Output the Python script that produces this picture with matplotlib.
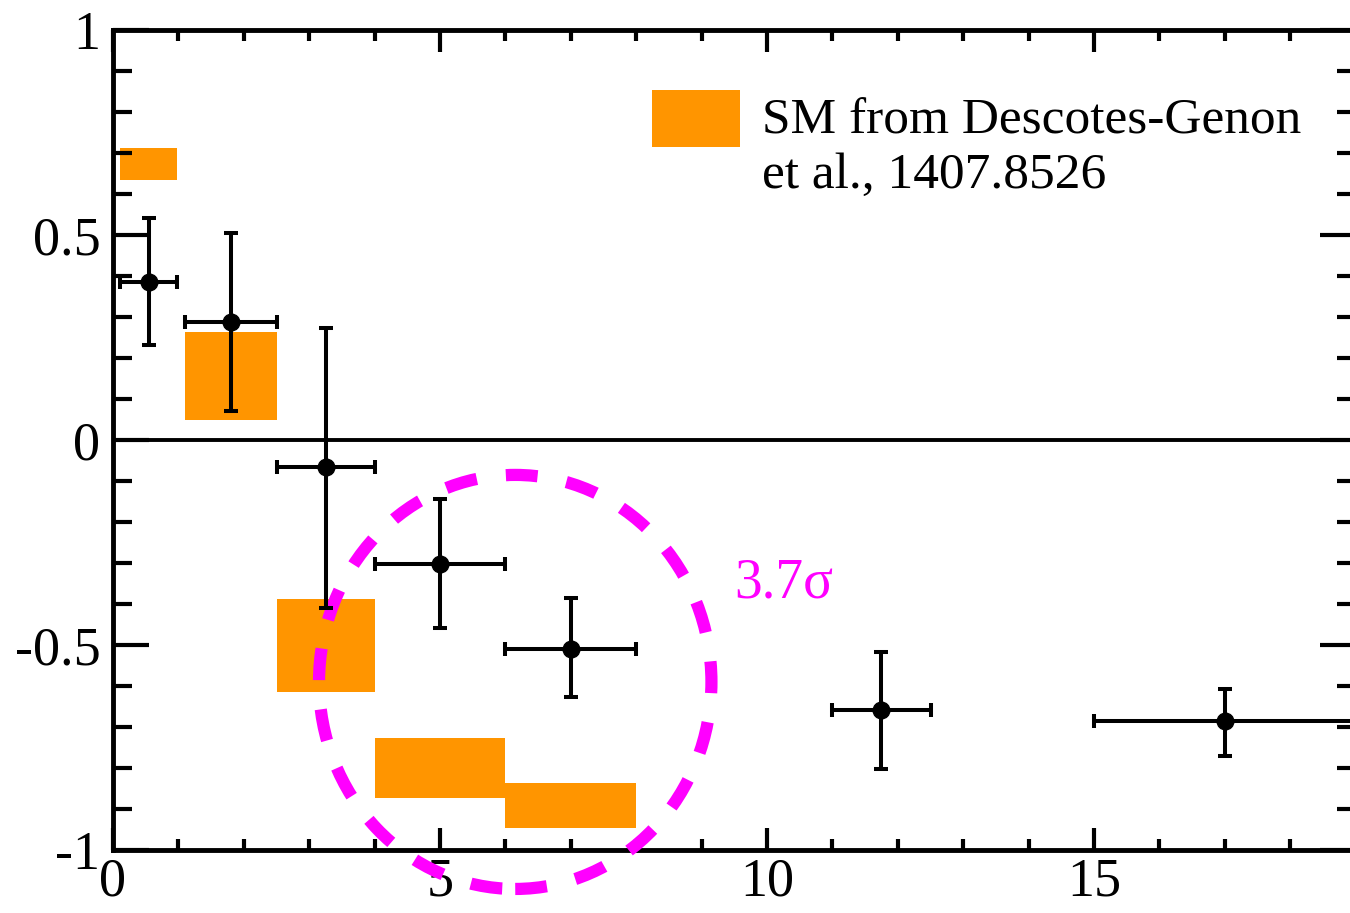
import matplotlib
matplotlib.use("Agg")
import matplotlib.pyplot as plt
from matplotlib.patches import Ellipse, Rectangle
from matplotlib.ticker import MultipleLocator

plt.rcParams['font.family'] = ['Liberation Serif', 'DejaVu Serif']

# data points (q2 bins) and measured values
x_val = [0.55, 1.8, 3.25, 5.0, 7.0, 11.75, 17.0]
x_lo = [0.1, 1.1, 2.5, 4.0, 6.0, 11.0, 15.0]
x_hi = [0.98, 2.5, 4.0, 6.0, 8.0, 12.5, 19.0]
y_val = [0.385, 0.288, -0.066, -0.302, -0.51, -0.659, -0.685]
y_up = [0.541, 0.505, 0.273, -0.144, -0.385, -0.517, -0.607]
y_dn = [0.232, 0.071, -0.41, -0.459, -0.627, -0.802, -0.771]

# SM prediction boxes
sm_xlo = [0.1, 1.1, 2.5, 4.0, 6.0]
sm_xhi = [0.98, 2.5, 4.0, 6.0, 8.0]
sm_lo = [0.634, 0.049, -0.615, -0.873, -0.946]
sm_hi = [0.712, 0.263, -0.388, -0.727, -0.837]

orange = '#ff9500'
magenta = '#ff00ff'

fig = plt.figure(figsize=(13.5, 9.13), dpi=100)
ax = fig.add_axes([0.0837, 0.069, 0.9205, 0.898])

# SM boxes
ax.bar(sm_xlo, [h - l for h, l in zip(sm_hi, sm_lo)],
       width=[b - a for a, b in zip(sm_xlo, sm_xhi)],
       bottom=sm_lo, align='edge', color=orange, zorder=1, linewidth=0)

ax.axhline(0, color='black', lw=2.8, zorder=2)

# data with errors
xerr = [[v - l for v, l in zip(x_val, x_lo)], [h - v for v, h in zip(x_val, x_hi)]]
yerr = [[v - d for v, d in zip(y_val, y_dn)], [u - v for v, u in zip(y_val, y_up)]]
ax.errorbar(x_val, y_val, xerr=xerr, yerr=yerr, fmt='o', color='black',
            ms=12, elinewidth=2.9, capsize=5, capthick=2.9, zorder=4, clip_on=False)

# 3.7 sigma circle
circ = Ellipse((6.15, -0.59), 6.0, 1.01, fill=False, edgecolor=magenta,
               lw=8.8, linestyle=(0, (2.6, 2.4)), zorder=3, clip_on=False)
ax.add_patch(circ)
ax.text(9.5, -0.385, '3.7σ', color=magenta, fontsize=40, va='baseline')

# legend
ax.add_patch(Rectangle((0.434, 0.857), 0.0708, 0.0695, transform=ax.transAxes,
                       color=orange, lw=0, zorder=5))
ax.text(0.522, 0.874, 'SM from Descotes-Genon', transform=ax.transAxes,
        fontsize=37, va='baseline')
ax.text(0.522, 0.807, 'et al., 1407.8526', transform=ax.transAxes,
        fontsize=37, va='baseline')

ax.set_xlim(0, 19)
ax.set_ylim(-1, 1)
ax.xaxis.set_major_locator(MultipleLocator(5))
ax.xaxis.set_minor_locator(MultipleLocator(1))
ax.yaxis.set_major_locator(MultipleLocator(0.5))
ax.yaxis.set_minor_locator(MultipleLocator(0.1))
ax.set_yticks([-1, -0.5, 0, 0.5, 1])
ax.set_yticklabels(['-1', '-0.5', '0', '0.5', '1'])

ax.tick_params(axis='both', which='both', direction='in', top=True, right=True,
               width=3, labelsize=39)
ax.tick_params(axis='x', which='major', length=16, pad=5)
ax.tick_params(axis='x', which='minor', length=8)
ax.tick_params(axis='y', which='major', length=26, pad=9)
ax.tick_params(axis='y', which='minor', length=14)
for s in ax.spines.values():
    s.set_linewidth(3.5)

fig.savefig('out.png', dpi=100)
